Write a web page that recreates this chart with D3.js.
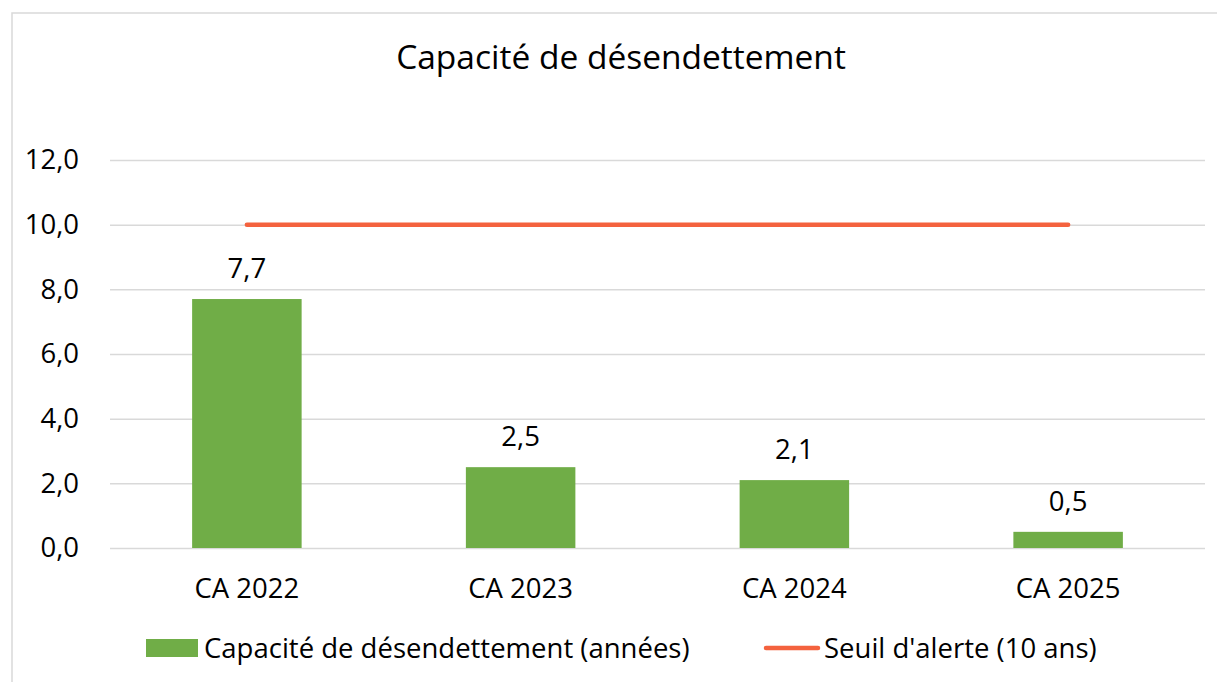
<!DOCTYPE html>
<html>
<head>
<meta charset="utf-8">
<script src="https://cdn.jsdelivr.net/npm/d3@7"></script>
<style>
  body { margin: 0; background: #fff; }
  svg text { font-family: "Open Sans", sans-serif; fill: #000; }
</style>
</head>
<body>
<div class="chart"></div>
<script>
// data
var categories = ["CA 2022", "CA 2023", "CA 2024", "CA 2025"];
var capacite = [7.7, 2.5, 2.1, 0.5];
var seuil = [10, 10, 10, 10];
var yTicks = [0, 2, 4, 6, 8, 10, 12];
var legendLabels = ["Capacité de désendettement (années)", "Seuil d'alerte (10 ans)"];

var w = 1217, h = 682;
var green = "#70ad47", red = "#f4623e";

var svg = d3.select("div.chart")
            .append("svg")
            .attr("width", w)
            .attr("height", h);

// chart frame
svg.append("rect")
   .attr("x", 12).attr("y", 13)
   .attr("width", w + 10).attr("height", h + 10)
   .attr("fill", "#fff")
   .attr("stroke", "#d9d9d9")
   .attr("stroke-width", 1.5);

var x = d3.scaleBand()
          .domain(categories)
          .range([110, 1205])
          .paddingInner(0.6)
          .paddingOuter(0.3);

var y = d3.scaleLinear()
          .domain([0, 12])
          .range([548, 160]);

var fmt = function(v) { return d3.format(".1f")(v).replace(".", ","); };

// title
svg.append("text")
   .attr("x", 621).attr("y", 69)
   .attr("text-anchor", "middle")
   .style("font-size", "33.5px")
   .text("Capacité de désendettement");

// gridlines + y labels
var yAxis = d3.axisLeft(y)
              .tickValues(yTicks)
              .tickSize(-(1205 - 110))
              .tickPadding(31)
              .tickFormat(fmt);

var gy = svg.append("g")
            .attr("transform", "translate(110,0)")
            .call(yAxis);
gy.select(".domain").remove();
gy.selectAll(".tick line").attr("stroke", "#d9d9d9").attr("stroke-width", 1.5);
gy.selectAll(".tick text").style("font-size", "27.5px").attr("fill", "#000");

// x labels
svg.selectAll(".xlab")
   .data(categories)
   .enter()
   .append("text")
   .attr("class", "xlab")
   .attr("x", function(d) { return x(d) + x.bandwidth() / 2; })
   .attr("y", 598)
   .attr("text-anchor", "middle")
   .style("font-size", "27.5px")
   .text(function(d) { return d; });

// bars
svg.selectAll(".bar")
   .data(capacite)
   .enter()
   .append("rect")
   .attr("class", "bar")
   .attr("x", function(d, i) { return x(categories[i]); })
   .attr("y", function(d) { return y(d); })
   .attr("width", x.bandwidth())
   .attr("height", function(d) { return y(0) - y(d); })
   .attr("fill", green);

// bar value labels
svg.selectAll(".vlab")
   .data(capacite)
   .enter()
   .append("text")
   .attr("class", "vlab")
   .attr("x", function(d, i) { return x(categories[i]) + x.bandwidth() / 2; })
   .attr("y", function(d) { return y(d) - 21; })
   .attr("text-anchor", "middle")
   .style("font-size", "27.5px")
   .text(fmt);

// threshold line
var line = d3.line()
             .x(function(d, i) { return x(categories[i]) + x.bandwidth() / 2; })
             .y(function(d) { return y(d); });

svg.append("path")
   .datum(seuil)
   .attr("d", line)
   .attr("fill", "none")
   .attr("stroke", red)
   .attr("stroke-width", 4.5)
   .attr("stroke-linecap", "round");

// legend
var leg = svg.append("g");
leg.append("rect")
   .attr("x", 146).attr("y", 639)
   .attr("width", 52).attr("height", 18)
   .attr("fill", green);
leg.append("text")
   .attr("x", 204).attr("y", 658)
   .style("font-size", "27.5px")
   .text(legendLabels[0]);
leg.append("line")
   .attr("x1", 766).attr("x2", 818)
   .attr("y1", 648).attr("y2", 648)
   .attr("stroke", red)
   .attr("stroke-width", 4.5)
   .attr("stroke-linecap", "round");
leg.append("text")
   .attr("x", 824).attr("y", 658)
   .style("font-size", "27.5px")
   .text(legendLabels[1]);
</script>
</body>
</html>
